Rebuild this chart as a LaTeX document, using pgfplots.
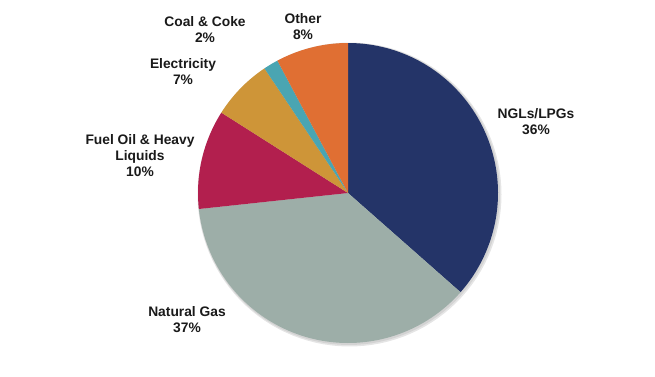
\documentclass[border=0pt]{standalone}
\usepackage{pgfplots}
\pgfplotsset{compat=1.18}
\usepackage{fontspec}
\setmainfont{Liberation Sans}
\definecolor{cNGL}{HTML}{243468}
\definecolor{cNG}{HTML}{9DAEA8}
\definecolor{cFuel}{HTML}{B21F4E}
\definecolor{cElec}{HTML}{CE9538}
\definecolor{cCoal}{HTML}{4AA5B2}
\definecolor{cOther}{HTML}{E06F33}
\definecolor{txt}{HTML}{1A1A1A}
\tikzset{lbl/.style={font=\fontsize{13.8}{16}\selectfont\bfseries, text=txt, align=center, inner sep=0pt}}
\begin{document}
\begin{tikzpicture}
\begin{axis}[
  scale only axis, width=655pt, height=376pt,
  xmin=0, xmax=655, ymin=0, ymax=376,
  axis line style={draw=none}, xtick=\empty, ytick=\empty,
  clip=false,
]
% soft shadow
\addplot[fill=black, fill opacity=0.10, draw=none, domain=0:360, samples=120] ({349.5+152*cos(x)},{181.5+152*sin(x)}) -- cycle;
\addplot[fill=black, fill opacity=0.08, draw=none, domain=0:360, samples=120] ({349+151*cos(x)},{182+151*sin(x)}) -- cycle;
% wedges: value (%) / colour, clockwise from the top
\pgfmathsetmacro\start{90}
\foreach \v/\c in {36.5/cNGL, 36.8/cNG, 10.7/cFuel, 6.6/cElec, 1.6/cCoal, 7.8/cOther} {
  \pgfmathsetmacro\stop{\start-3.6*\v}
  \edef\tmp{\noexpand\addplot[fill=\c, draw=none, domain=\start:\stop, samples=80]
    ({348+150*cos(x)},{183+150*sin(x)}) -- (axis cs:348,183) -- cycle;}
  \tmp
  \global\let\start\stop
}
\node[lbl] at (axis cs:205,346) {Coal \& Coke\\2\%};
\node[lbl] at (axis cs:303,349) {Other\\8\%};
\node[lbl] at (axis cs:183,304) {Electricity\\7\%};
\node[lbl] at (axis cs:140,220) {Fuel Oil \& Heavy\\Liquids\\10\%};
\node[lbl] at (axis cs:187,56) {Natural Gas\\37\%};
\node[lbl] at (axis cs:536,254.5) {NGLs/LPGs\\36\%};
\end{axis}
\end{tikzpicture}
\end{document}
